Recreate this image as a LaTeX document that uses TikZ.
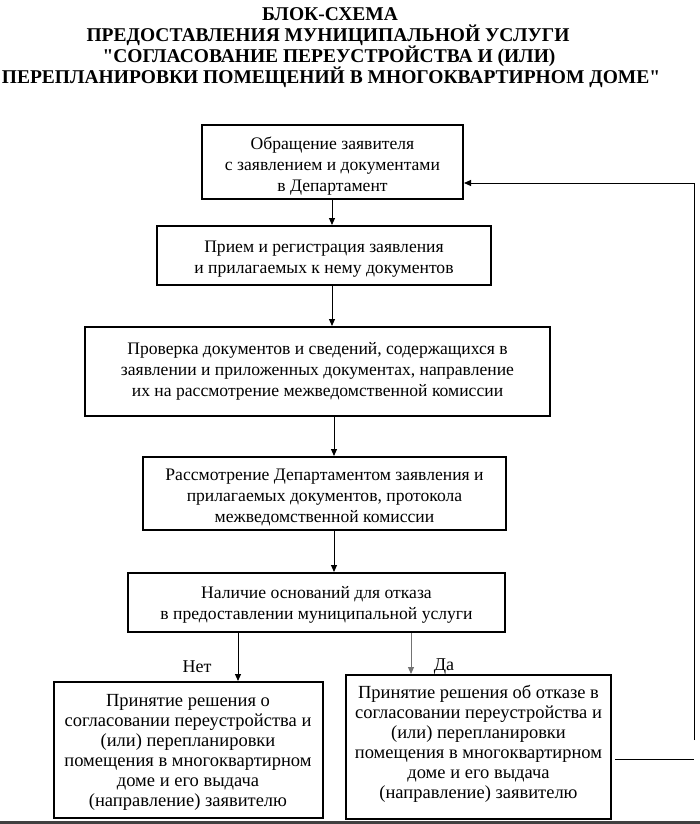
\documentclass[tikz,border=0pt]{standalone}
\usepackage{fontspec}
\setmainfont{Liberation Serif}
\newfontfamily\ttlfont{Liberation Serif}[Ligatures=TeXOff]
\usetikzlibrary{arrows.meta,calc}
\begin{document}
\begin{tikzpicture}[x=1pt,y=-1pt,
  box/.style={draw, line width=2pt, inner sep=0pt},
  txt/.style={align=center, inner sep=0pt, font=\fontsize{17.6}{21}\selectfont},
  lowtxt/.style={align=center, inner sep=0pt, font=\fontsize{18.5}{20}\selectfont},
  ttl/.style={font=\ttlfont\fontsize{19.5}{21}\selectfont\bfseries, inner sep=0pt},
  lbl/.style={font=\fontsize{18}{20}\selectfont, inner sep=0pt},
  arr/.style={line width=1pt, -{Triangle[length=7pt,width=6pt]}},
  ln/.style={line width=1pt}]
\useasboundingbox (0,0) rectangle (700,824);
% title
\node[ttl] (t1) at (330,14) {БЛОК-СХЕМА};
\node[ttl] (t2) at (328,35) {ПРЕДОСТАВЛЕНИЯ МУНИЦИПАЛЬНОЙ УСЛУГИ};
\node[ttl] (t3) at (329,56) {"СОГЛАСОВАНИЕ ПЕРЕУСТРОЙСТВА И (ИЛИ)};
\node[ttl] (t4) at (331,77) {ПЕРЕПЛАНИРОВКИ ПОМЕЩЕНИЙ В МНОГОКВАРТИРНОМ ДОМЕ"};
% boxes
\node[box, minimum width=261pt, minimum height=74pt] (b1) at (332.5,162) {};
\node[txt] (b1t) at ($(b1.center)+(0,4)$)
  {Обращение заявителя\\с заявлением и документами\\в Департамент};
\node[box, minimum width=334pt, minimum height=59pt] (b2) at (324,255.5) {};
\node[txt] (b2t) at ($(b2.center)+(0,4)$)
  {Прием и регистрация заявления\\и прилагаемых к нему документов};
\node[box, minimum width=465pt, minimum height=89pt] (b3) at (317.5,371.5) {};
\node[txt] (b3t) at ($(b3.center)+(0,0)$)
  {Проверка документов и сведений, содержащихся в\\заявлении и приложенных документах, направление\\их на рассмотрение межведомственной комиссии};
\node[box, minimum width=363pt, minimum height=73pt] (b4) at (324.5,493.5) {};
\node[txt] (b4t) at ($(b4.center)+(0,4)$)
  {Рассмотрение Департаментом заявления и\\прилагаемых документов, протокола\\межведомственной комиссии};
\node[box, minimum width=377pt, minimum height=59pt] (b5) at (316.5,602.5) {};
\node[txt] (b5t) at ($(b5.center)+(0,2)$)
  {Наличие оснований для отказа\\в предоставлении муниципальной услуги};
\node[box, minimum width=269pt, minimum height=136pt] (b6) at (188,750) {};
\node[lowtxt] (b6t) at ($(b6.center)+(0,2)$)
  {Принятие решения о\\согласовании переустройства и\\(или) перепланировки\\помещения в многоквартирном\\доме и его выдача\\(направление) заявителю};
\node[box, minimum width=265pt, minimum height=144pt] (b7) at (478.5,747) {};
\node[lowtxt] (b7t) at ($(b7.center)+(0,-3)$)
  {Принятие решения об отказе в\\согласовании переустройства и\\(или) перепланировки\\помещения в многоквартирном\\доме и его выдача\\(направление) заявителю};
% labels
\node[lbl] (no) at (197,667) {Нет};
\node[lbl] (yes) at (444,667) {Да};
% helper coordinates
\coordinate (c1) at (332,0);
\coordinate (c2) at (334,0);
\coordinate (cn) at (238,0);
\coordinate (cy) at (411,0);
\coordinate (h1) at (694,759);
\coordinate (v1) at (694,740);
\coordinate (v2) at (694,183);
% connectors
\draw[arr] (b1.south -| c1) -- (b2.north -| c1);
\draw[arr] (b2.south -| c1) -- (b3.north -| c1);
\draw[arr] (b3.south -| c2) -- (b4.north -| c2);
\draw[arr] (b4.south -| c2) -- (b5.north -| c2);
\draw[arr] (b5.south -| cn) -- (b6.north -| cn);
\draw[arr, black!55] (b5.south -| cy) -- (b7.north -| cy);
\draw[ln] ($(b7.east |- h1)+(3,0)$) -- (h1);
\draw[arr] (v1) -- (v2) -- (v2 -| b1.east);
% bottom edge bar
\fill[black!75] (0,821) rectangle (700,824);
\end{tikzpicture}
\end{document}
